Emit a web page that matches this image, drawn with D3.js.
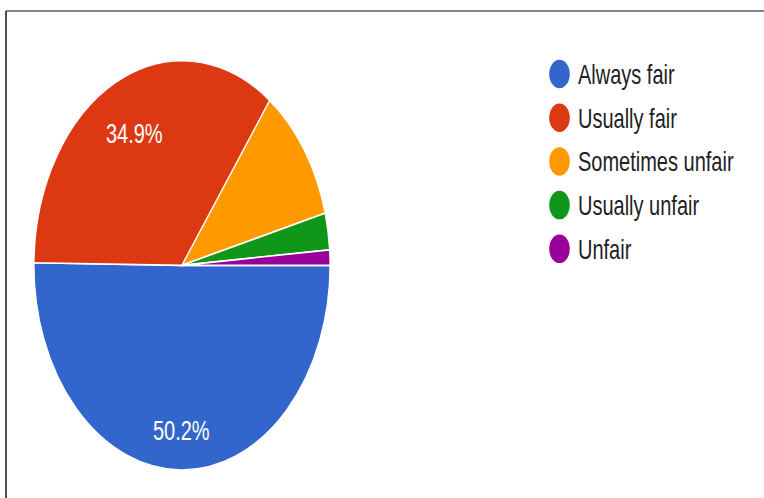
<!DOCTYPE html>
<html>
<head>
<meta charset="utf-8">
<script src="https://cdn.jsdelivr.net/npm/d3@7"></script>
<style>
  html, body { margin: 0; padding: 0; background: #fff; }
  svg { display: block; }
  text { font-family: "Liberation Sans", Arial, sans-serif; }
</style>
</head>
<body>
<svg id="chart" width="764" height="498"></svg>
<script>
// Survey answers and their shares (percent)
const categories = ["Always fair", "Usually fair", "Sometimes unfair", "Usually unfair", "Unfair"];
const shares = [50.2, 34.9, 10.8, 2.9, 1.2];
const colors = ["#3366cc", "#dc3912", "#ff9900", "#109618", "#990099"];

const W = 764, H = 498;
const stretchY = 1.383;          // chart is drawn squashed then stretched vertically
const cx = 182, cy = 265.3 / stretchY, r = 148;

const svg = d3.select("#chart");

// frame lines along the top and left edges
svg.append("line").attr("x1", 6).attr("y1", 11).attr("x2", W).attr("y2", 11)
  .attr("stroke", "#5a5a5a").attr("stroke-width", 1.6);
svg.append("line").attr("x1", 6).attr("y1", 11).attr("x2", 6).attr("y2", H)
  .attr("stroke", "#222").attr("stroke-width", 1.6);

const g = svg.append("g").attr("transform", `scale(1,${stretchY})`);

const data = categories.map((c, i) => ({ name: c, value: shares[i], color: colors[i] }));
const total = d3.sum(shares);

const pie = d3.pie().value(d => d.value).sort(null)
  .startAngle(Math.PI / 2).endAngle(Math.PI / 2 + 2 * Math.PI);
const arc = d3.arc().innerRadius(0).outerRadius(r);
const arcs = pie(data);

const pieG = g.append("g").attr("transform", `translate(${cx},${cy})`);
pieG.selectAll("path.slice").data(arcs).join("path")
  .attr("class", "slice")
  .attr("d", arc)
  .attr("fill", d => d.data.color)
  .attr("stroke", "#fff")
  .attr("stroke-width", 1.2);

// percentage labels on the larger slices, pushed out so the box edge sits near the rim
const fmt = d3.format(".1f");
const fontSize = 20, capH = 15;
arcs.filter(d => d.data.value / total > 0.15).forEach(d => {
  const t = pieG.append("text")
    .attr("fill", "#fff")
    .attr("font-size", fontSize)
    .attr("text-anchor", "middle")
    .attr("dy", "0.36em")
    .text(fmt(d.data.value / total * 100) + "%");
  const w = t.node().getComputedTextLength();
  const mid = (d.startAngle + d.endAngle) / 2;
  const ux = Math.sin(mid), uy = -Math.cos(mid);
  const dist = 0.855 * r - (Math.abs(ux) * w / 2 + Math.abs(uy) * capH / 2);
  t.attr("x", ux * dist).attr("y", uy * dist);
});

// legend
const legY0 = 74 / stretchY, legStep = 31.6;
const leg = g.append("g").attr("transform", `translate(559.5,${legY0})`);
const rows = leg.selectAll("g").data(data).join("g")
  .attr("transform", (d, i) => `translate(0,${i * legStep})`);
rows.append("circle").attr("r", 10.3).attr("fill", d => d.color);
rows.append("text")
  .attr("x", 18.5)
  .attr("dy", "0.36em")
  .attr("font-size", 20)
  .attr("fill", "#222")
  .text(d => d.name);
</script>
</body>
</html>
